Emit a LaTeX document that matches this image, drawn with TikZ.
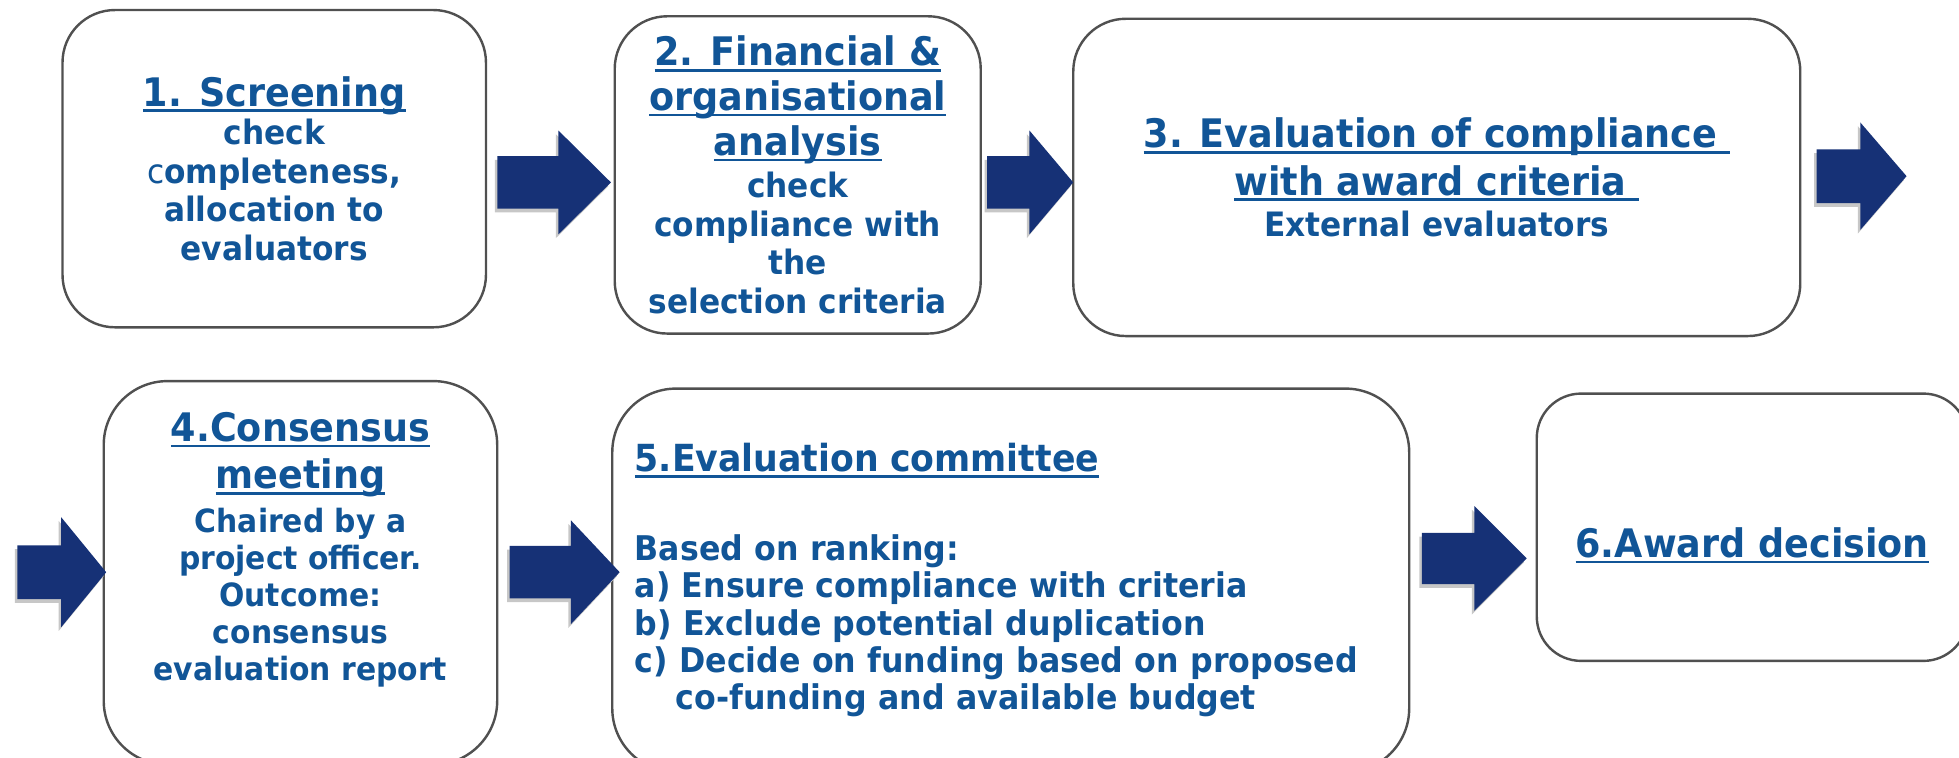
\documentclass[tikz,border=0pt]{standalone}
\usepackage{fontspec}
\setmainfont{DejaVu Sans}[FakeStretch=0.93]
\definecolor{ecblue}{RGB}{17,85,151}
\definecolor{arrowblue}{RGB}{22,49,118}
\definecolor{boxline}{RGB}{80,80,80}
\newcommand\ulin[1]{\setbox0\hbox{#1}\rlap{\rule[-2.7pt]{\wd0}{1.2pt}}\box0}
\newcommand\ttl{\fontsize{17.9}{20.4}\selectfont}
\newcommand\bdy[2]{\fontsize{#1}{#2}\selectfont\lineskiplimit=-50pt\relax}
\begin{document}
\begin{tikzpicture}
    [   x=0.02cm, y=-0.02cm,
        box/.style={draw=boxline,line width=1.1pt,fill=white,rounded corners=#1,
                    text=ecblue,font=\bfseries\bdy{15.3}{17.6},align=center,inner sep=0pt},
        arrowshade/.style={fill=black!22},
    ]
    \useasboundingbox (0,0) rectangle (1568,606);
    % first row
    \node[box=0.84cm,minimum width=6.78cm,minimum height=5.08cm] (screen) at (219.5,135)
        {{\ttl\ulin{1. Screening}}\\ check\\ {\mdseries c}ompleteness,\\ allocation to\\ evaluators};
    \node[box=0.84cm,minimum width=5.86cm,minimum height=5.08cm] (finance) at (638.5,140)
        {{\ttl\ulin{2. Financial \&}}\\[2.8pt] {\ttl\ulin{organisational}}\\[2.8pt]
         {\ttl\ulin{analysis}}\\[1.7pt] check\\ compliance with\\ the\\ selection criteria};
    \node[box=0.84cm,minimum width=11.64cm,minimum height=5.08cm] (award) at (1150,142)
        {{\ttl\ulin{3. Evaluation of compliance\ }}\\[3.9pt]
         {\ttl\ulin{with award criteria\ }}\\[1.1pt] External evaluators};
    % second row
    \node[box=1.02cm,minimum width=6.30cm,minimum height=6.14cm,font=\bfseries\bdy{14.6}{16.9}]
        (consensus) at (240.5,458.5)
        {{\ttl\ulin{4.Consensus}}\\[4.6pt] {\ttl\ulin{meeting}}\\[2.9pt] Chaired by a\\
         project officer.\\ Outcome:\\ consensus\\ evaluation report\rule[-24pt]{0pt}{24pt}};
    \node[box=1.02cm,minimum width=12.76cm,minimum height=6.14cm,align=left,
          text width=12.04cm,inner xsep=0.36cm,font=\bfseries\bdy{15.5}{17}]
        (committee) at (809,464.5)
        {{\fontsize{17}{19}\selectfont\ulin{5.Evaluation committee}}\\[23.3pt]
         Based on ranking:\\ a) Ensure compliance with criteria\\ b) Exclude potential duplication\\
         c) Decide on funding based on proposed\\ \hspace*{18.7pt}co-funding and available budget};
    \node[box=0.71cm,minimum width=6.90cm,minimum height=4.28cm] (decision) at (1402.5,422)
        {\ttl\ulin{6.Award decision}\rule{0pt}{30pt}};
    % block arrows
    \foreach \xa/\xh/\xt/\ym/\bw/\hw in {398/447/489/146/21/41.5, 790/824/859/146/21/41.5,
        1454/1489/1526/141/21.5/43, 14/49/85/458/21.5/44, 408/457/496/458/21/41.5,
        1138/1180/1222/447/20.5/42}
    {   \fill[arrowshade,xshift=-0.04cm,yshift=-0.06cm] (\xa,\ym-\bw) -- (\xh,\ym-\bw) -- (\xh,\ym-\hw)
            -- (\xt,\ym) -- (\xh,\ym+\hw) -- (\xh,\ym+\bw) -- (\xa,\ym+\bw) -- cycle;
        \fill[arrowblue] (\xa,\ym-\bw) -- (\xh,\ym-\bw) -- (\xh,\ym-\hw)
            -- (\xt,\ym) -- (\xh,\ym+\hw) -- (\xh,\ym+\bw) -- (\xa,\ym+\bw) -- cycle;
    }
\end{tikzpicture}
\end{document}
